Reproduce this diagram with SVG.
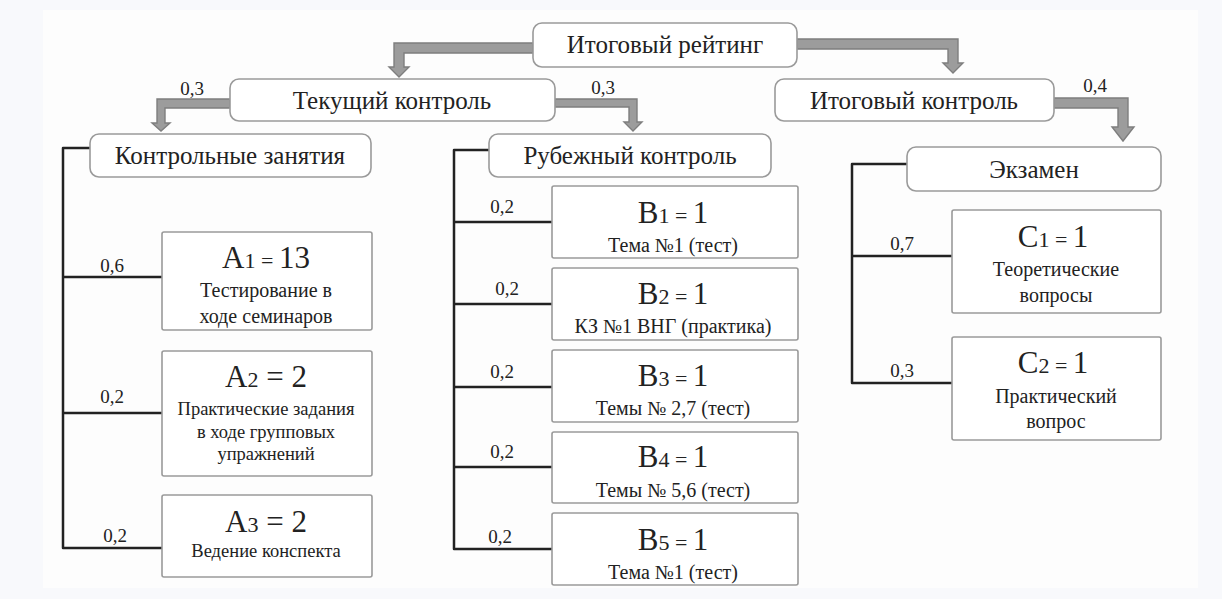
<svg xmlns="http://www.w3.org/2000/svg" width="1222" height="599" viewBox="0 0 1222 599">
<rect x="0" y="0" width="1222" height="599" fill="#f8f9fc"/>
<rect x="43" y="10" width="1155" height="578" fill="#fdfdfd"/>

<g id="connectors">
<g fill="#9c9c9c" stroke="#7e7e7e" stroke-width="1.4">
<path d="M533,43 L394,43 L394,67 L389,67 L399,77 L409,67 L404,67 L404,53 L533,53 Z"/>
<path d="M797,39 L958,39 L958,63 L963,63 L953,73 L943,63 L948,63 L948,49 L797,49 Z"/>
<path d="M230,99 L157,99 L157,123 L152,123 L161,131 L170,123 L165,123 L165,108 L230,108 Z"/>
<path d="M555,99 L637,99 L637,122 L642,122 L633,131 L624,122 L629,122 L629,107 L555,107 Z"/>
<path d="M1054,98 L1128,98 L1128,127 L1134,127 L1123,141 L1112,127 L1118,127 L1118,108 L1054,108 Z"/>
</g>
<g fill="none" stroke="#222" stroke-width="2.5" stroke-linejoin="round">
<path d="M90,148 L63,148 L63,548 L162,548 M63,277 L162,277 M63,413 L162,413"/>
<path d="M489,150 L454,150 L454,549 L552,549 M454,222 L552,222 M454,304 L552,304 M454,387 L552,387 M454,467 L552,467"/>
<path d="M907,164 L852,164 L852,383 L952,383 M852,256 L952,256"/>
</g>
<text font-family="Tinos, Liberation Serif, Times New Roman, serif" font-size="19" fill="#222" text-anchor="middle" x="192" y="95">0,3</text>
<text font-family="Tinos, Liberation Serif, Times New Roman, serif" font-size="19" fill="#222" text-anchor="middle" x="603" y="94">0,3</text>
<text font-family="Tinos, Liberation Serif, Times New Roman, serif" font-size="19" fill="#222" text-anchor="middle" x="1095" y="92">0,4</text>
<text font-family="Tinos, Liberation Serif, Times New Roman, serif" font-size="19" fill="#222" text-anchor="middle" x="112" y="272">0,6</text>
<text font-family="Tinos, Liberation Serif, Times New Roman, serif" font-size="19" fill="#222" text-anchor="middle" x="112" y="403">0,2</text>
<text font-family="Tinos, Liberation Serif, Times New Roman, serif" font-size="19" fill="#222" text-anchor="middle" x="115" y="542">0,2</text>
<text font-family="Tinos, Liberation Serif, Times New Roman, serif" font-size="19" fill="#222" text-anchor="middle" x="502" y="213">0,2</text>
<text font-family="Tinos, Liberation Serif, Times New Roman, serif" font-size="19" fill="#222" text-anchor="middle" x="507" y="295">0,2</text>
<text font-family="Tinos, Liberation Serif, Times New Roman, serif" font-size="19" fill="#222" text-anchor="middle" x="502" y="378">0,2</text>
<text font-family="Tinos, Liberation Serif, Times New Roman, serif" font-size="19" fill="#222" text-anchor="middle" x="502" y="458">0,2</text>
<text font-family="Tinos, Liberation Serif, Times New Roman, serif" font-size="19" fill="#222" text-anchor="middle" x="500" y="543">0,2</text>
<text font-family="Tinos, Liberation Serif, Times New Roman, serif" font-size="19" fill="#222" text-anchor="middle" x="902" y="250">0,7</text>
<text font-family="Tinos, Liberation Serif, Times New Roman, serif" font-size="19" fill="#222" text-anchor="middle" x="902" y="377">0,3</text>
</g>

<g id="n-rating"><rect fill="#fff" stroke="#9a9a9a" stroke-width="1.6" x="533" y="23" width="264" height="44" rx="9"/><text font-family="Tinos, Liberation Serif, Times New Roman, serif" font-size="25" fill="#222" text-anchor="middle" x="665" y="53">Итоговый рейтинг</text></g>
<g id="n-current"><rect fill="#fff" stroke="#9a9a9a" stroke-width="1.6" x="230" y="79" width="325" height="42" rx="9"/><text font-family="Tinos, Liberation Serif, Times New Roman, serif" font-size="25" fill="#222" text-anchor="middle" x="392" y="109">Текущий контроль</text></g>
<g id="n-final"><rect fill="#fff" stroke="#9a9a9a" stroke-width="1.6" x="775" y="79" width="279" height="42" rx="9"/><text font-family="Tinos, Liberation Serif, Times New Roman, serif" font-size="25" fill="#222" text-anchor="middle" x="914" y="109">Итоговый контроль</text></g>
<g id="n-classes"><rect fill="#fff" stroke="#9a9a9a" stroke-width="1.6" x="90" y="134" width="281" height="43" rx="9"/><text font-family="Tinos, Liberation Serif, Times New Roman, serif" font-size="25" fill="#222" text-anchor="middle" x="230" y="164">Контрольные занятия</text></g>
<g id="n-milestone"><rect fill="#fff" stroke="#9a9a9a" stroke-width="1.6" x="489" y="134" width="282" height="43" rx="9"/><text font-family="Tinos, Liberation Serif, Times New Roman, serif" font-size="25" fill="#222" text-anchor="middle" x="630" y="164">Рубежный контроль</text></g>
<g id="n-exam"><rect fill="#fff" stroke="#9a9a9a" stroke-width="1.6" x="907" y="147" width="254" height="44" rx="9"/><text font-family="Tinos, Liberation Serif, Times New Roman, serif" font-size="25" fill="#222" text-anchor="middle" x="1034" y="178">Экзамен</text></g>

<g id="n-a1"><rect fill="#fff" stroke="#9a9a9a" stroke-width="1.6" x="162" y="232" width="210" height="98" rx="2"/>
<text font-family="Tinos, Liberation Serif, Times New Roman, serif" font-size="31" fill="#222" text-anchor="middle" x="266" y="268">A<tspan font-size="22">1 = </tspan>13</text>
<text font-family="Tinos, Liberation Serif, Times New Roman, serif" font-size="20" fill="#222" text-anchor="middle" x="266" y="297">Тестирование в</text>
<text font-family="Tinos, Liberation Serif, Times New Roman, serif" font-size="20" fill="#222" text-anchor="middle" x="266" y="323">ходе семинаров</text></g>
<g id="n-a2"><rect fill="#fff" stroke="#9a9a9a" stroke-width="1.6" x="162" y="351" width="210" height="125" rx="2"/>
<text font-family="Tinos, Liberation Serif, Times New Roman, serif" font-size="31" fill="#222" text-anchor="middle" x="266" y="387">A<tspan font-size="22">2</tspan> = 2</text>
<text font-family="Tinos, Liberation Serif, Times New Roman, serif" font-size="18.5" fill="#222" text-anchor="middle" x="266" y="415">Практические задания</text>
<text font-family="Tinos, Liberation Serif, Times New Roman, serif" font-size="18.5" fill="#222" text-anchor="middle" x="266" y="438">в ходе групповых</text>
<text font-family="Tinos, Liberation Serif, Times New Roman, serif" font-size="18.5" fill="#222" text-anchor="middle" x="266" y="460">упражнений</text></g>
<g id="n-a3"><rect fill="#fff" stroke="#9a9a9a" stroke-width="1.6" x="162" y="495" width="210" height="82" rx="2"/>
<text font-family="Tinos, Liberation Serif, Times New Roman, serif" font-size="31" fill="#222" text-anchor="middle" x="266" y="532">A<tspan font-size="22">3</tspan> = 2</text>
<text font-family="Tinos, Liberation Serif, Times New Roman, serif" font-size="18.5" fill="#222" text-anchor="middle" x="266" y="557">Ведение конспекта</text></g>

<g id="n-b1"><rect fill="#fff" stroke="#9a9a9a" stroke-width="1.6" x="552" y="186" width="246" height="72" rx="2"/>
<text font-family="Tinos, Liberation Serif, Times New Roman, serif" font-size="31" fill="#222" text-anchor="middle" x="673" y="223">B<tspan font-size="22">1 = </tspan>1</text>
<text font-family="Tinos, Liberation Serif, Times New Roman, serif" font-size="20" fill="#222" text-anchor="middle" x="673" y="252">Тема №1 (тест)</text></g>
<g id="n-b2"><rect fill="#fff" stroke="#9a9a9a" stroke-width="1.6" x="552" y="268" width="246" height="72" rx="2"/>
<text font-family="Tinos, Liberation Serif, Times New Roman, serif" font-size="31" fill="#222" text-anchor="middle" x="673" y="304">B<tspan font-size="22">2 = </tspan>1</text>
<text font-family="Tinos, Liberation Serif, Times New Roman, serif" font-size="20" fill="#222" text-anchor="middle" x="673" y="333">КЗ №1 ВНГ (практика)</text></g>
<g id="n-b3"><rect fill="#fff" stroke="#9a9a9a" stroke-width="1.6" x="552" y="350" width="246" height="72" rx="2"/>
<text font-family="Tinos, Liberation Serif, Times New Roman, serif" font-size="31" fill="#222" text-anchor="middle" x="673" y="386">B<tspan font-size="22">3 = </tspan>1</text>
<text font-family="Tinos, Liberation Serif, Times New Roman, serif" font-size="20" fill="#222" text-anchor="middle" x="673" y="415">Темы № 2,7 (тест)</text></g>
<g id="n-b4"><rect fill="#fff" stroke="#9a9a9a" stroke-width="1.6" x="552" y="432" width="246" height="71" rx="2"/>
<text font-family="Tinos, Liberation Serif, Times New Roman, serif" font-size="31" fill="#222" text-anchor="middle" x="673" y="467">B<tspan font-size="22">4 = </tspan>1</text>
<text font-family="Tinos, Liberation Serif, Times New Roman, serif" font-size="20" fill="#222" text-anchor="middle" x="673" y="497">Темы № 5,6 (тест)</text></g>
<g id="n-b5"><rect fill="#fff" stroke="#9a9a9a" stroke-width="1.6" x="552" y="513" width="246" height="72" rx="2"/>
<text font-family="Tinos, Liberation Serif, Times New Roman, serif" font-size="31" fill="#222" text-anchor="middle" x="673" y="550">B<tspan font-size="22">5 = </tspan>1</text>
<text font-family="Tinos, Liberation Serif, Times New Roman, serif" font-size="20" fill="#222" text-anchor="middle" x="673" y="579">Тема №1 (тест)</text></g>

<g id="n-c1"><rect fill="#fff" stroke="#9a9a9a" stroke-width="1.6" x="952" y="210" width="209" height="103" rx="2"/>
<text font-family="Tinos, Liberation Serif, Times New Roman, serif" font-size="31" fill="#222" text-anchor="middle" x="1053" y="247">C<tspan font-size="22">1 = </tspan>1</text>
<text font-family="Tinos, Liberation Serif, Times New Roman, serif" font-size="20" fill="#222" text-anchor="middle" x="1056" y="276">Теоретические</text>
<text font-family="Tinos, Liberation Serif, Times New Roman, serif" font-size="20" fill="#222" text-anchor="middle" x="1056" y="302">вопросы</text></g>
<g id="n-c2"><rect fill="#fff" stroke="#9a9a9a" stroke-width="1.6" x="952" y="337" width="209" height="103" rx="2"/>
<text font-family="Tinos, Liberation Serif, Times New Roman, serif" font-size="31" fill="#222" text-anchor="middle" x="1053" y="373">C<tspan font-size="22">2 = </tspan>1</text>
<text font-family="Tinos, Liberation Serif, Times New Roman, serif" font-size="20" fill="#222" text-anchor="middle" x="1056" y="403">Практический</text>
<text font-family="Tinos, Liberation Serif, Times New Roman, serif" font-size="20" fill="#222" text-anchor="middle" x="1056" y="428">вопрос</text></g>
</svg>
